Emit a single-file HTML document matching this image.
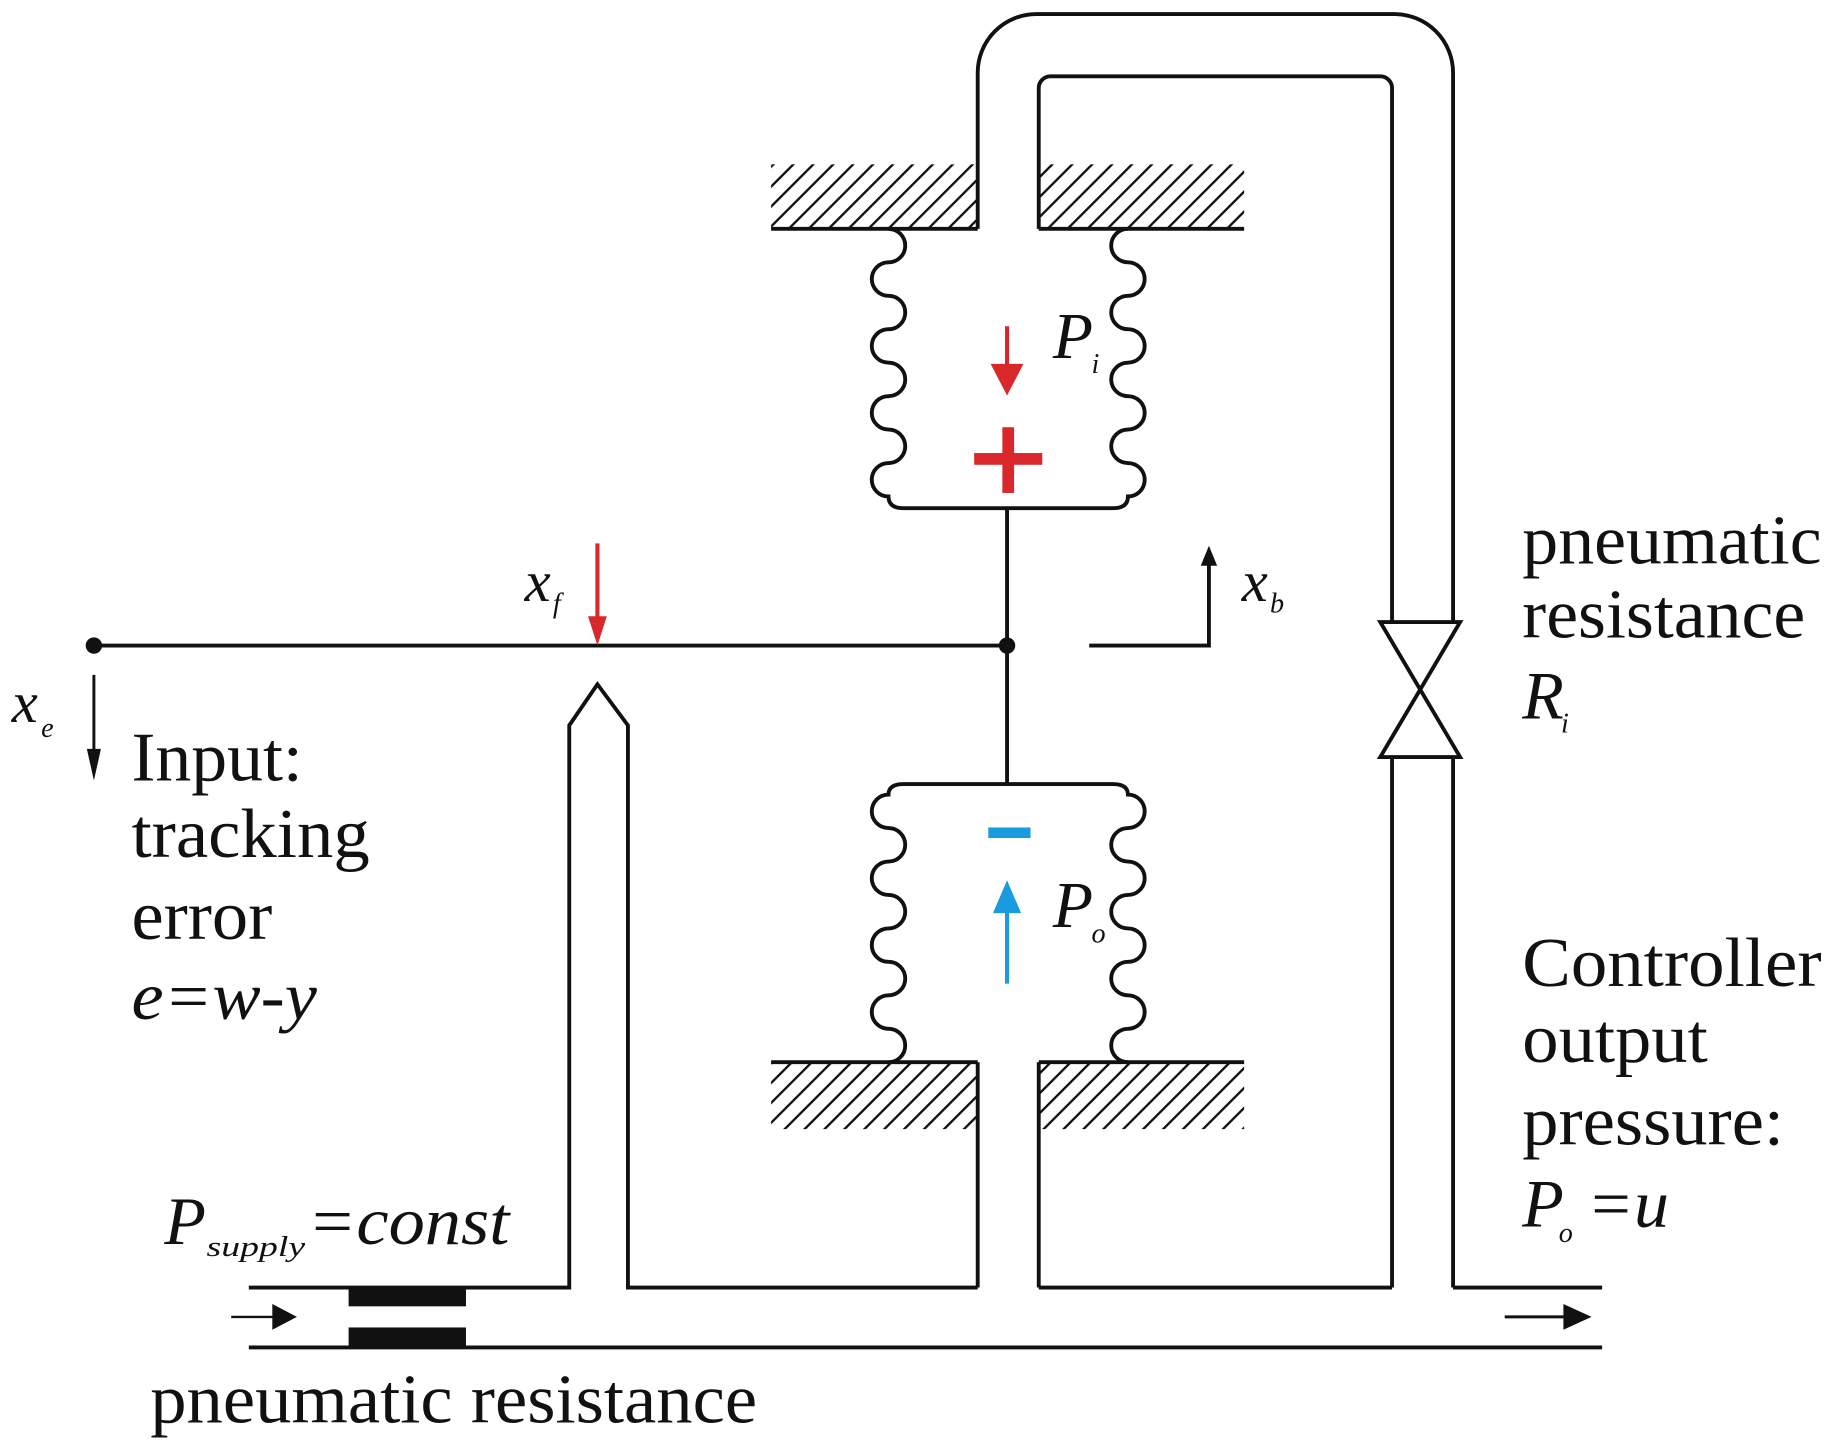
<!DOCTYPE html>
<html><head><meta charset="utf-8"><style>
html,body{margin:0;padding:0;background:#fff;}
svg{display:block;}
text{font-family:"Liberation Serif",serif;fill:#111;}
</style></head><body>
<svg width="1831" height="1450" viewBox="0 0 1560 1235.4" preserveAspectRatio="none" xmlns="http://www.w3.org/2000/svg">
<defs>
<pattern id="h" patternUnits="userSpaceOnUse" width="12" height="12" patternTransform="rotate(45)">
<rect width="12" height="12" fill="#fff"/>
<line x1="0" y1="0" x2="0" y2="12" stroke="#111" stroke-width="4"/>
</pattern>
</defs>
<g fill="none" stroke="#111" stroke-width="3.3">
<rect x="657" y="140" width="176" height="55" fill="url(#h)" stroke="none"/>
<rect x="885" y="140" width="175" height="55" fill="url(#h)" stroke="none"/>
<rect x="657" y="905" width="176" height="57" fill="url(#h)" stroke="none"/>
<rect x="885" y="905" width="175" height="57" fill="url(#h)" stroke="none"/>
<line x1="657" y1="195" x2="833" y2="195"/>
<line x1="885" y1="195" x2="1060" y2="195"/>
<line x1="657" y1="905" x2="833" y2="905"/>
<line x1="885" y1="905" x2="1060" y2="905"/>
<path d="M833,195 V62 A50,50 0 0 1 883,12 H1188 A50,50 0 0 1 1238,62 V530"/>
<path d="M885,195 V75 A10,10 0 0 1 895,65 H1176 A10,10 0 0 1 1186,75 V530"/>
<path d="M1176,530 H1244 L1176,645 H1244 Z"/>
<line x1="1186" y1="645" x2="1186" y2="1097"/>
<line x1="1238" y1="645" x2="1238" y2="1097"/>
<path d="M757,195 a14.25,14.25 0 0 1 0,28.5 a14.25,14.25 0 0 0 0,28.5 a14.25,14.25 0 0 1 0,28.5 a14.25,14.25 0 0 0 0,28.5 a14.25,14.25 0 0 1 0,28.5 a14.25,14.25 0 0 0 0,28.5 a14.25,14.25 0 0 1 0,28.5 a14.25,14.25 0 0 0 0,28.5 q0,10 13,10 H948 q13,0 13,-10 a14.25,14.25 0 0 0 0,-28.5 a14.25,14.25 0 0 1 0,-28.5 a14.25,14.25 0 0 0 0,-28.5 a14.25,14.25 0 0 1 0,-28.5 a14.25,14.25 0 0 0 0,-28.5 a14.25,14.25 0 0 1 0,-28.5 a14.25,14.25 0 0 0 0,-28.5 a14.25,14.25 0 0 1 0,-28.5"/>
<path d="M757,905 a14.25,14.25 0 0 0 0,-28.5 a14.25,14.25 0 0 1 0,-28.5 a14.25,14.25 0 0 0 0,-28.5 a14.25,14.25 0 0 1 0,-28.5 a14.25,14.25 0 0 0 0,-28.5 a14.25,14.25 0 0 1 0,-28.5 a14.25,14.25 0 0 0 0,-28.5 a14.25,14.25 0 0 1 0,-28.5 q0,-9 13,-9 H948 q13,0 13,9 a14.25,14.25 0 0 1 0,28.5 a14.25,14.25 0 0 0 0,28.5 a14.25,14.25 0 0 1 0,28.5 a14.25,14.25 0 0 0 0,28.5 a14.25,14.25 0 0 1 0,28.5 a14.25,14.25 0 0 0 0,28.5 a14.25,14.25 0 0 1 0,28.5 a14.25,14.25 0 0 0 0,28.5"/>
<line x1="858" y1="433" x2="858" y2="668"/>
<line x1="80" y1="550" x2="858" y2="550"/>
<line x1="833" y1="905" x2="833" y2="1097"/>
<line x1="885" y1="905" x2="885" y2="1097"/>
<path d="M212,1097 H485 V618 L509,583 L535,618 V1097 H833"/>
<line x1="885" y1="1097" x2="1186" y2="1097"/>
<line x1="1238" y1="1097" x2="1365" y2="1097"/>
<line x1="212" y1="1148" x2="1365" y2="1148"/>
<path d="M928,550 H1030 V478"/>
<line x1="80" y1="575" x2="80" y2="650" stroke-width="2.5"/>
<line x1="197" y1="1122" x2="235" y2="1122" stroke-width="2"/>
<line x1="1282" y1="1122" x2="1335" y2="1122" stroke-width="2.5"/>
</g>
<circle cx="80" cy="550" r="7" fill="#111"/>
<circle cx="858" cy="550" r="7" fill="#111"/>
<rect x="297" y="1097" width="100" height="16" fill="#111"/>
<rect x="297" y="1131" width="100" height="17" fill="#111"/>
<path d="M232,1111 L253,1122 L232,1133 Z" fill="#111"/>
<path d="M1332,1111 L1356,1122 L1332,1133 Z" fill="#111"/>
<path d="M1023,482 L1030,465 L1037,482 Z" fill="#111"/>
<path d="M74,638 L80,665 L86,638 Z" fill="#111"/>
<line x1="509" y1="463" x2="509" y2="530" stroke="#d8282b" stroke-width="3.5"/>
<path d="M501,525 L509,550 L517,525 Z" fill="#d8282b"/>
<line x1="858" y1="278" x2="858" y2="315" stroke="#d8282b" stroke-width="3.5"/>
<path d="M844,310 L858,337 L872,310 Z" fill="#d8282b"/>
<rect x="830" y="386" width="58" height="10" fill="#d8282b"/>
<rect x="854" y="364" width="10" height="56" fill="#d8282b"/>
<rect x="842" y="705" width="36" height="9" fill="#1a9be0"/>
<line x1="858" y1="838" x2="858" y2="775" stroke="#1a9be0" stroke-width="3.5"/>
<path d="M846,778 L858,750 L870,778 Z" fill="#1a9be0"/>
<g font-style="italic">
<text x="447" y="512" font-size="50">x</text><text x="471" y="522" font-size="24">f</text>
<text x="1058" y="512" font-size="50">x</text><text x="1082" y="522" font-size="24">b</text>
<text x="10" y="615" font-size="50">x</text><text x="35" y="628" font-size="24">e</text>
<text x="897" y="305" font-size="56">P</text><text x="930" y="318" font-size="24">i</text>
<text x="897" y="790" font-size="56">P</text><text x="930" y="803" font-size="24">o</text>
<text x="1297" y="612" font-size="58">R</text><text x="1330" y="624" font-size="24">i</text>
<text x="112" y="868" font-size="58" textLength="158" lengthAdjust="spacingAndGlyphs">e=w-y</text>
<text x="1297" y="1045" font-size="58">P</text><text x="1328" y="1058" font-size="24">o</text>
<text x="1352" y="1045" font-size="58" textLength="70" lengthAdjust="spacingAndGlyphs">=u</text>
<text x="140" y="1060" font-size="58">P</text><text x="176" y="1070" font-size="24" textLength="84" lengthAdjust="spacingAndGlyphs">supply</text>
<text x="262" y="1060" font-size="58" textLength="172" lengthAdjust="spacingAndGlyphs">=const</text>
</g>
<g font-size="60">
<text x="1297" y="480" textLength="255" lengthAdjust="spacingAndGlyphs">pneumatic</text>
<text x="1297" y="543" textLength="241" lengthAdjust="spacingAndGlyphs">resistance</text>
<text x="112" y="665" textLength="146" lengthAdjust="spacingAndGlyphs">Input:</text>
<text x="112" y="730" textLength="203" lengthAdjust="spacingAndGlyphs">tracking</text>
<text x="112" y="800" textLength="120" lengthAdjust="spacingAndGlyphs">error</text>
<text x="1297" y="840" textLength="255" lengthAdjust="spacingAndGlyphs">Controller</text>
<text x="1297" y="905" textLength="158" lengthAdjust="spacingAndGlyphs">output</text>
<text x="1297" y="975" textLength="223" lengthAdjust="spacingAndGlyphs">pressure:</text>
<text x="128" y="1212" textLength="517" lengthAdjust="spacingAndGlyphs">pneumatic resistance</text>
</g>
</svg>
</body></html>
